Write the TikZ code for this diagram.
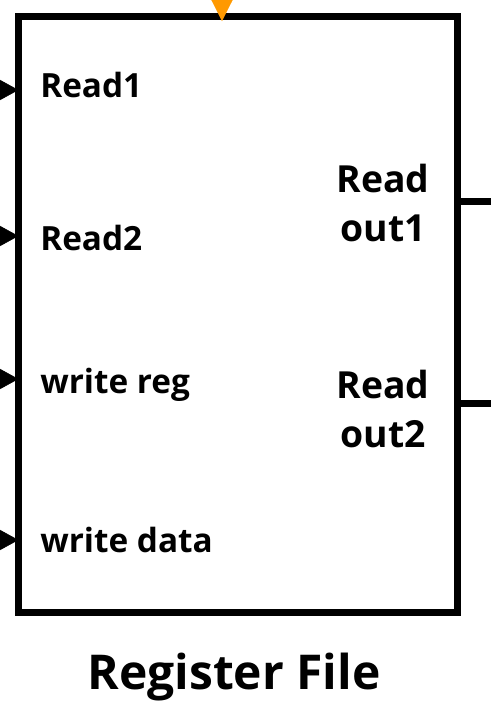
\documentclass[tikz,border=0pt]{standalone}
\usepackage{fontspec}
\setmainfont{Open Sans}
\usepackage{tikz}
\usetikzlibrary{positioning}
\usetikzlibrary{arrows.meta}
\usepackage{xcolor}
\definecolor{clkorange}{RGB}{255,153,0}

\begin{document}
\begin{tikzpicture}[x=0.75pt, y=-0.75pt, >={Triangle[length=16.5pt, width=18pt]},
    port/.style={font=\bfseries\fontsize{25}{30}\selectfont, anchor=base west, inner sep=0pt},
    outlabel/.style={font=\bfseries\fontsize{28}{36.75}\selectfont, align=center, inner sep=0pt},
    wire/.style={line width=5.25pt}]
    \useasboundingbox (0,0) rectangle (491,715);
    \node[draw, line width=5.25pt, minimum width=329.25pt, minimum height=447pt, inner sep=0pt, outer sep=0pt, anchor=north west] (rf) at (18.5,16.5) {};
    % inputs
    \coordinate (in1) at (-10,90);
    \coordinate (in2) at (-10,236);
    \coordinate (in3) at (-10,379);
    \coordinate (in4) at (-10,540);
    \draw[->] (in1) -- (in1 -| rf.west);
    \draw[->] (in2) -- (in2 -| rf.west);
    \draw[->] (in3) -- (in3 -| rf.west);
    \draw[->] (in4) -- (in4 -| rf.west);
    \node[port] (rd1) at (40,97) {Read1};
    \node[port] (rd2) at (40,250) {Read2};
    \node[port] (wreg) at (40,393) {write reg};
    \node[port] (wdata) at (40,552) {write data};
    % outputs
    \coordinate (out1) at (491,201);
    \coordinate (out2) at (491,403);
    \draw[wire] (out1 -| rf.east) -- (out1);
    \draw[wire] (out2 -| rf.east) -- (out2);
    \node[outlabel] (rdout1) at (383,203) {Read\\out1};
    \node[outlabel] (rdout2) at (383,409) {Read\\out2};
    % clock
    \coordinate (clk) at (222,-40);
    \draw[clkorange, ->, >={Triangle[length=22.5pt, width=22.5pt]}, shorten >=-3.5pt] (clk) -- (clk |- rf.north);
    \node[font=\bfseries\fontsize{36}{43}\selectfont, inner sep=0pt, below=30pt of rf, xshift=-3pt] (title) {Register File};
\end{tikzpicture}
\end{document}
